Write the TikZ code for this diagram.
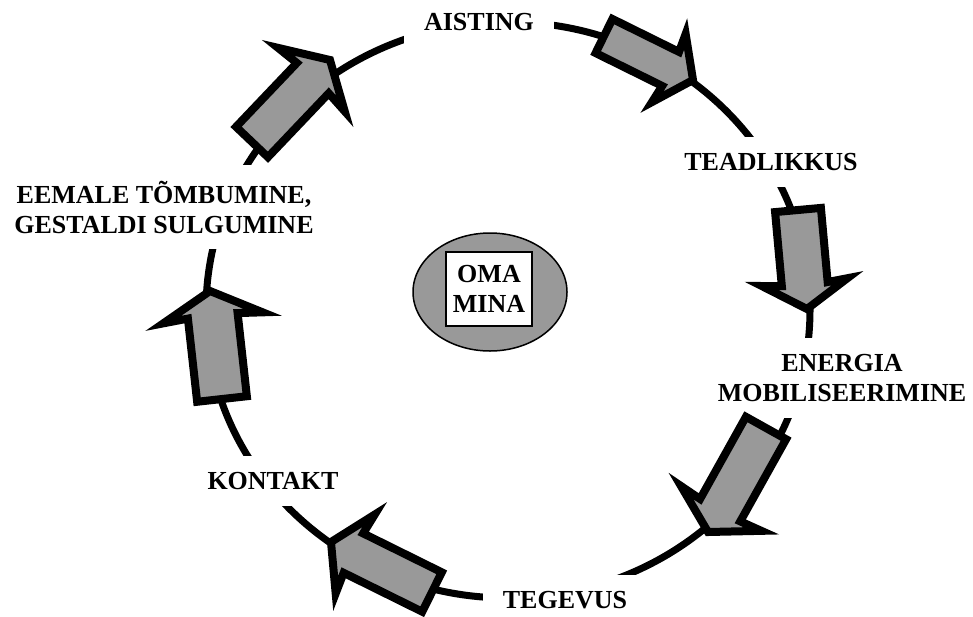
\documentclass[tikz,border=0pt]{standalone}
\usepackage{fontspec}
\setmainfont{Liberation Serif}
\usepackage{tikz}
\usetikzlibrary{calc,shapes.geometric}
\definecolor{midgray}{HTML}{999999}

% block arrow on the cycle: #1 tail, #2 tip, #3 shaft half width, #4 head half width
\newcommand{\cyclearrow}[4]{%
  \draw[blockarrow] ($(#1)!#3!90:(#2)$) -- ($(#2)!12.5pt!(#1)!#3!90:(#2)$)
    -- ($(#2)!13.5pt!(#1)!#4!90:(#2)$) -- (#2) -- ($(#2)!13.5pt!(#1)!#4!-90:(#2)$)
    -- ($(#2)!12.5pt!(#1)!#3!-90:(#2)$) -- ($(#1)!#3!-90:(#2)$) -- cycle;}

\begin{document}
\begin{tikzpicture}[
    x=0.5pt, y=-0.5pt,
    stage/.style={font=\fontsize{13}{15}\selectfont\bfseries, align=center,
                  fill=white, inner xsep=10pt, inner ysep=8pt},
    blockarrow/.style={draw=black, fill=midgray, line width=4pt, line join=miter},
    ring/.style={line width=3.5pt}
]
  \useasboundingbox (0,0) rectangle (973,616);

  % Cycle
  \draw[ring] (508,310) ellipse [x radius=151pt, y radius=144pt];

  % Stages
  \node[stage] (aisting) at (479,22) {AISTING};
  \node[stage] (teadlikkus) at (771,162) {TEADLIKKUS};
  \node[stage] (energia) at (842,378) {ENERGIA\\MOBILISEERIMINE};
  \node[stage] (tegevus) at (565,600) {TEGEVUS};
  \node[stage] (kontakt) at (273,481) {KONTAKT};
  \node[stage] (eemale) at (164,207) {EEMALE TÕMBUMINE,\\GESTALDI SULGUMINE};

  % Arrow ends
  \coordinate (t1) at (604,36);   \coordinate (h1) at (693,80);
  \coordinate (t2) at (798,210);  \coordinate (h2) at (807,309);
  \coordinate (t3) at (766,428);  \coordinate (h3) at (708,532);
  \coordinate (t4) at (432,592);  \coordinate (h4) at (331,542);
  \coordinate (t5) at (222,399);  \coordinate (h5) at (210,291);
  \coordinate (t6) at (252,142);  \coordinate (h6) at (330,60);

  % Arrows
  \cyclearrow{t1}{h1}{9.5pt}{19pt}
  \cyclearrow{t2}{h2}{11.5pt}{21.5pt}
  \cyclearrow{t3}{h3}{11.5pt}{23pt}
  \cyclearrow{t4}{h4}{11pt}{22pt}
  \cyclearrow{t5}{h5}{12.5pt}{25pt}
  \cyclearrow{t6}{h6}{11pt}{23pt}

  % Centre
  \node[ellipse, draw, line width=0.75pt, fill=midgray,
        minimum width=77pt, minimum height=59pt] (self) at (490,292) {};
  \node[draw, line width=0.75pt, fill=white, align=center,
        font=\fontsize{13}{15}\selectfont\bfseries,
        minimum width=42pt, minimum height=37pt] (selfbox) at (489,289) {OMA\\MINA};
\end{tikzpicture}
\end{document}
